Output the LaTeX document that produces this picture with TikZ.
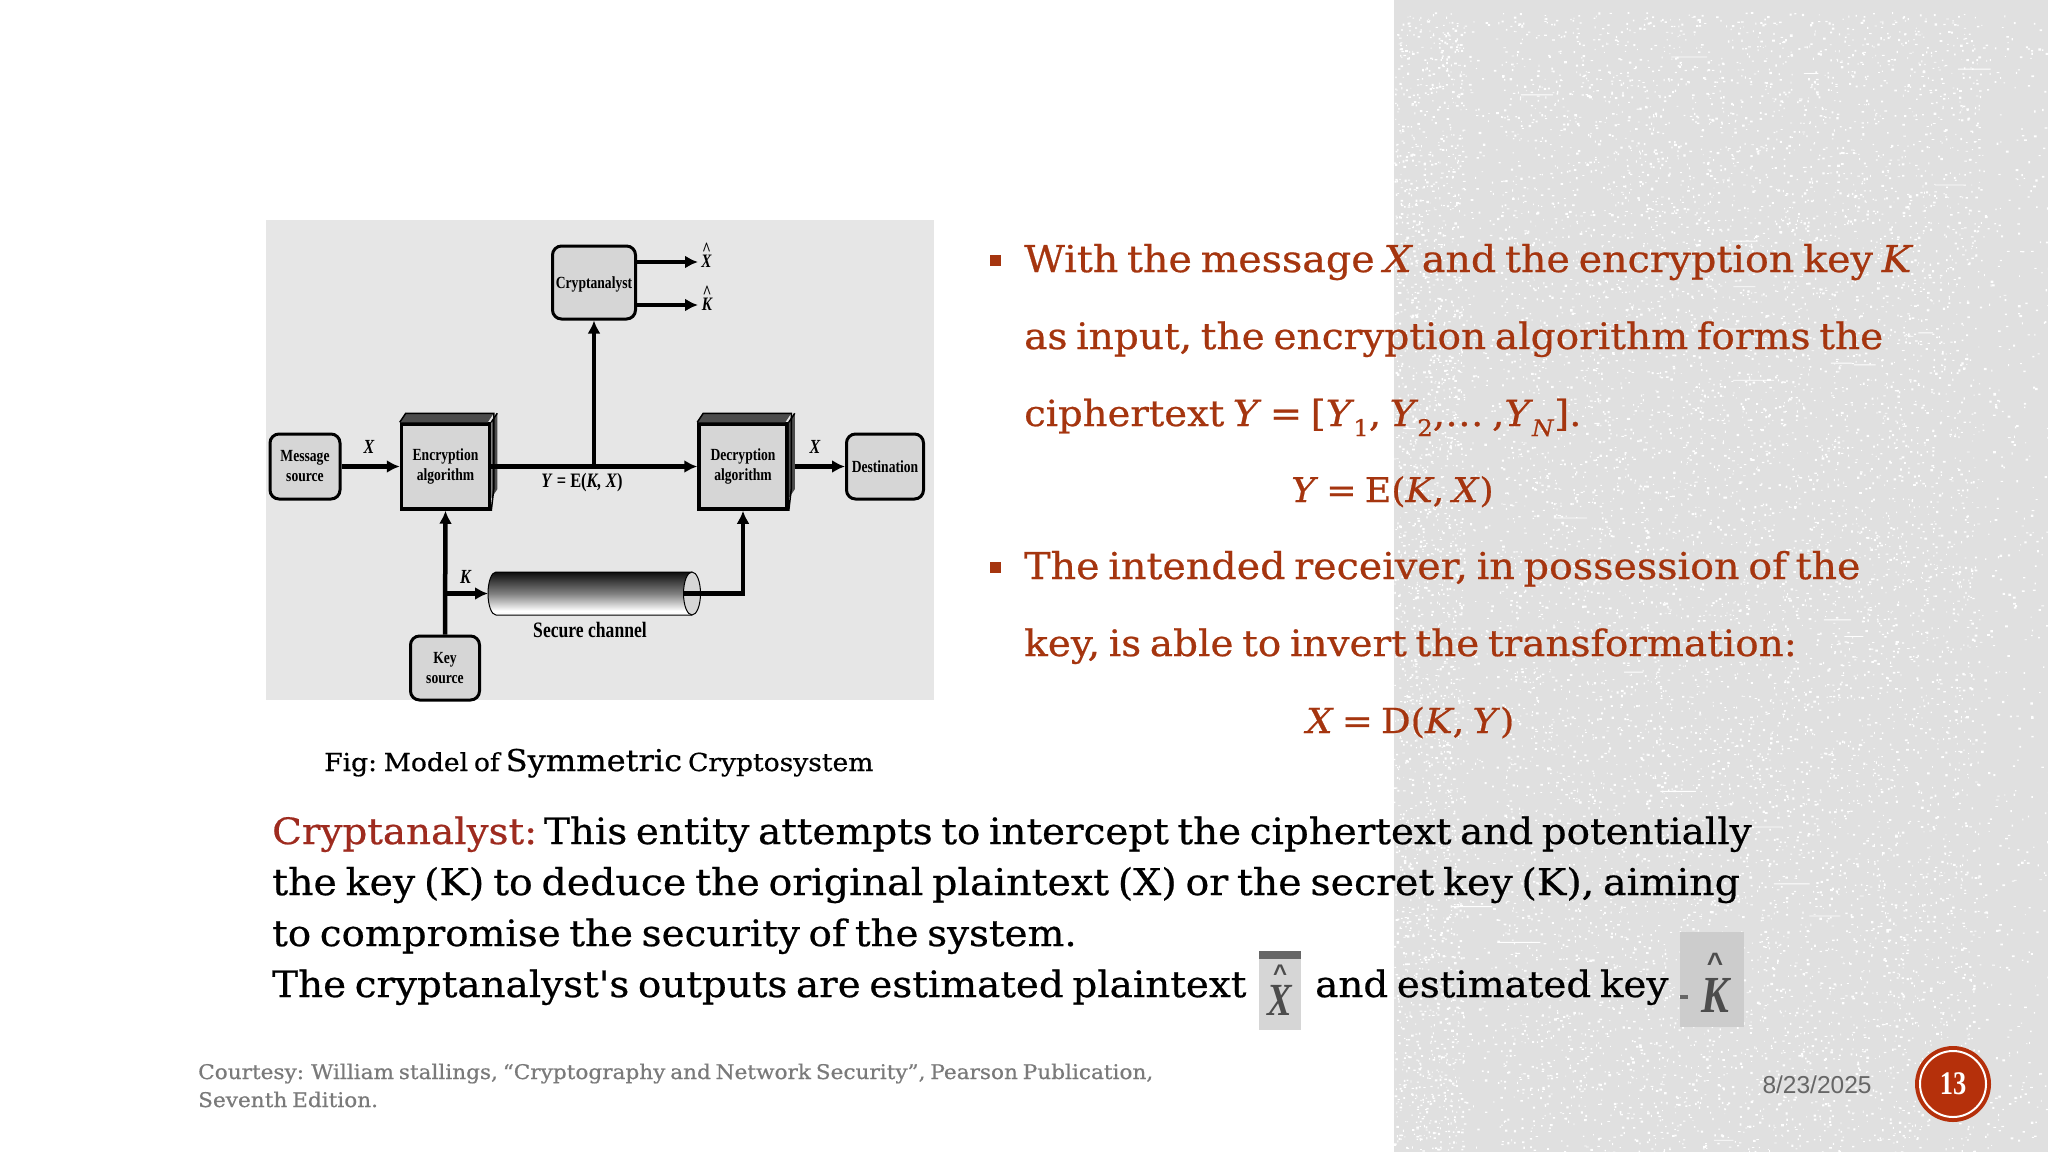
\documentclass[tikz,border=0pt]{standalone}
\usepackage{fontspec}
\setmainfont{DejaVu Serif}
\usetikzlibrary{calc,arrows.meta}
\tikzset{>={Latex[length=13pt,width=13pt]}}
\newfontfamily\slabfont[FakeStretch=1.07,WordSpace=0.7,FakeBold=0.6]{DejaVu Serif}
\newfontfamily\figfont[FakeStretch=0.8]{Liberation Serif}
\newfontfamily\datefont{Liberation Sans}
\definecolor{rust}{HTML}{A5350F}
\definecolor{redhead}{HTML}{9E2B1F}
\definecolor{panel}{HTML}{E6E6E6}
\definecolor{band}{HTML}{E0E0E0}
\definecolor{boxgray}{HTML}{D6D6D6}
\definecolor{footgray}{HTML}{7A7A7A}
\definecolor{badge}{HTML}{B5300B}
\pgfdeclareverticalshading{tube}{100bp}{color(0bp)=(gray!70); color(18bp)=(gray!10); color(30bp)=(white); color(50bp)=(gray); color(78bp)=(black); color(100bp)=(gray!80)}
\newcommand{\fs}[1]{\fontsize{#1}{#1}\selectfont}
\newcommand{\lowidx}[1]{\kern-1pt\raisebox{-0.28em}{\fontsize{23}{23}\selectfont #1}}
\tikzset{
  figtxt/.style={font=\figfont\bfseries\fs{17},align=center,inner sep=0pt},
  softbox/.style={draw,line width=3pt,rounded corners=9pt,fill=boxgray,figtxt},
  algbox/.style={draw,line width=3.5pt,fill=boxgray,figtxt,minimum width=88pt,minimum height=85pt},
  flow/.style={->,line width=4.5pt},
  line/.style={font=\slabfont\fs{37},text=rust,anchor=base west,inner sep=0pt},
  para/.style={font=\slabfont\fs{36.3},text=black,anchor=base west,inner sep=0pt},
  foot/.style={font=\slabfont\fs{20.2},text=footgray,anchor=base west,inner sep=0pt},
  inset/.style={font=\figfont\bfseries\itshape\fs{46},text=black!70,inner sep=0pt,align=center}
}
\begin{document}
\begin{tikzpicture}[x=1pt,y=-1pt]
  \useasboundingbox (0,0) rectangle (2048,1152);
  \fill[white] (0,0) rectangle (2048,1152);
  % textured side band
  \fill[band] (1394,0) rectangle (2048,1152);
  \pgfmathsetseed{1312}
  \foreach \j in {1,...,8} {
    \fill[white] \foreach \i in {1,...,300} {(1394+rnd*70,12+rnd*1140) rectangle +(0.7+rnd*2,0.7+rnd*1.6)};
  }
  \foreach \j in {1,...,30} {
    \fill[white] \foreach \i in {1,...,300} {(1500+rnd*480,12+rnd*1140) rectangle +(0.7+rnd*2,0.7+rnd*1.6)};
  }
  \fill[white] \foreach \i in {1,...,250} {(1464+rnd*36,12+rnd*1140) rectangle +(0.8+rnd*2,0.8+rnd*1.5)};
  \fill[white] \foreach \i in {1,...,400} {(1980+rnd*68,12+rnd*1140) rectangle +(0.8+rnd*2,0.8+rnd*1.5)};
  \fill[white] \foreach \i in {1,...,25} {(1394+rnd*640,12+rnd*1140) rectangle +(10+rnd*35,0.9)};

  % figure
  \fill[panel] (266,220) rectangle (934,700);
  \node[softbox,minimum width=70pt,minimum height=65pt] (msg) at (305,466.5) {Message\\[3pt]source};
  \node[algbox] (enc) at (445.5,466.5) {Encryption\\[3pt]algorithm};
  \node[algbox] (dec) at (743,466.5) {Decryption\\[3pt]algorithm};
  \node[softbox,minimum width=77pt,minimum height=65pt] (dest) at (885,466.5) {Destination};
  \node[softbox,minimum width=83pt,minimum height=73pt] (crypt) at (594,282.5) {\raisebox{-6pt}[0pt][0pt]{Cryptanalyst}};
  \node[softbox,minimum width=69pt,minimum height=64pt] (key) at (445,668) {Key\\[3pt]source};
  \foreach \b in {enc,dec} {
    \fill[black!70] (\b.north west) -- ++(6,-9) -- ++(88,0) -- ++(-6,9) -- cycle;
    \fill[black!70] (\b.north east) -- ++(6,-9) -- ++(0,76) -- ++(-6,9) -- cycle;
    \draw[line width=1.5pt] (\b.north west) -- ++(6,-9) -- ++(88,0) -- ++(0,76) -- (\b.south east);
    \draw[line width=1.5pt] (\b.north east) -- ++(6,-9);
  }
  % tube
  \coordinate (tubein) at (488,593.5);
  \coordinate (tubeout) at (683,593.5);
  \shade[shading=tube] (496,572) -- (692,572) -- (692,615) -- (496,615) arc[start angle=90,end angle=270,x radius=8,y radius=21.5] -- cycle;
  \draw[line width=1pt] (692,572) -- (496,572) arc[start angle=270,end angle=90,x radius=8,y radius=21.5] -- (692,615);
  \draw[line width=1pt,fill=boxgray] (692,593.5) ellipse[x radius=8.5,y radius=21.5];

  \coordinate (tap) at (crypt.south |- enc);
  \coordinate (keyjoin) at (key.north |- tubein);
  \node[figtxt,font=\figfont\bfseries\itshape\fs{19}] (xout) at (706.5,255) {\^{}\\[-7pt]X};
  \node[figtxt,font=\figfont\bfseries\itshape\fs{19}] (kout) at (707,298) {\^{}\\[-7pt]K};
  \coordinate (xtip) at (698,262);
  \coordinate (ktip) at (698,305);
  \draw[flow] (msg) -- (enc);
  \draw[flow] (enc.east) -- (dec.west);
  \draw[flow] (tap) -- (crypt.south);
  \draw[flow] (dec.east) ++(6,0) -- (dest.west);
  \draw[flow] (key.north) -- (enc.south);
  \draw[flow] (keyjoin) -- (tubein);
  \draw[flow] (tubeout) -| (dec.south);
  \draw[flow] (crypt.east |- xtip) -- (xtip);
  \draw[flow] (crypt.east |- ktip) -- (ktip);
  \node[figtxt,font=\figfont\bfseries\itshape\fs{20}] (xin) at (369,447) {X};
  \node[figtxt,font=\figfont\bfseries\itshape\fs{20}] (xto) at (815,447) {X};
  \node[figtxt,font=\figfont\bfseries\itshape\fs{20}] (kin) at (465.5,577) {K};
  \node[figtxt,font=\figfont\bfseries\fs{20.5}] (ylab) at (582,483) {\textit{Y} = E(\textit{K, X})};
  \node[figtxt,font=\figfont\bfseries\fs{22}] (chan) at (590,630) {Secure channel};

  \node[font=\slabfont\fs{24.8},anchor=base west,inner sep=0pt] (cap) at (324,771) {Fig:\kern-2pt{} Model of {\fs{30}Symmetric} Cryptosystem};

  % right column
  \fill[rust] (990,255) rectangle (1001,266);
  \fill[rust] (990,562) rectangle (1001,573);
  \node[line] (l1) at (1024,272) {With the message \textit{X} and the encryption key \textit{K}};
  \node[line,font=\slabfont\fs{36.5}] (l2) at (1024,349) {as input, the encryption algorithm forms the};
  \node[line,font=\slabfont\fs{36}] (l3) at (1024,426) {ciphertext \textit{Y} = [\textit{Y}\lowidx{1}, \textit{Y}\lowidx{2},\dots\ ,\textit{Y}\lowidx{\textit{N}}].};
  \node[line,font=\slabfont\fs{34}] (l4) at (1291,502) {\textit{Y} = E(\textit{K}, \textit{X})};
  \node[line] (l5) at (1024,579) {The intended receiver, in possession of the};
  \node[line,font=\slabfont\fs{36.4}] (l6) at (1024,656) {key, is able to invert the transformation:};
  \node[line,font=\slabfont\fs{34.5}] (l7) at (1306,733) {\textit{X} = D(\textit{K}, \textit{Y})};

  % bottom text
  \node[para] (p1) at (272,844) {\textcolor{redhead}{Cryptanalyst:}\kern-6pt{} This entity attempts to intercept the ciphertext and potentially};
  \node[para,font=\slabfont\fs{36.9}] (p2) at (272,895) {the key (K) to deduce the original plaintext (X) or the secret key (K), aiming};
  \node[para] (p3) at (272,946) {to compromise the security of the system.};
  \node[para] (p4) at (272,997) {The cryptanalyst's outputs are estimated plaintext};
  \node[para] (p5) at (1315,997) {and estimated key};
  \fill[boxgray] (1259,951) rectangle (1301,1030);
  \fill[black!60] (1259,951) rectangle (1301,959);
  \node[inset] (xhat) at (1280,990) {{\datefont\bfseries\upshape\fs{24}\symbol{94}}\\[-12pt]X};
  \fill[black!20] (1680,932) rectangle (1744,1027);
  \fill[black!60] (1680,995) rectangle (1688,999);
  \node[inset,font=\figfont\bfseries\itshape\fs{52}] (khat) at (1715,983) {{\datefont\bfseries\upshape\fs{28}\symbol{94}}\\[-12pt]K};

  % footer
  \node[foot] (f1) at (198,1079) {Courtesy: William stallings, “Cryptography and Network Security”, Pearson Publication,};
  \node[foot] (f2) at (198,1107) {Seventh Edition.};
  \node[font=\datefont\fs{24.5},text=black!60,inner sep=0pt] (date) at (1817,1085) {8/23/2025};
  \node[circle,fill=badge,minimum size=76pt,inner sep=0pt] (num) at (1953,1084) {};
  \draw[white,line width=2pt] (num) circle[radius=33];
  \node[font=\figfont\bfseries\fs{33},text=white,inner sep=0pt] (numtxt) at (num) {13};
\end{tikzpicture}
\end{document}
